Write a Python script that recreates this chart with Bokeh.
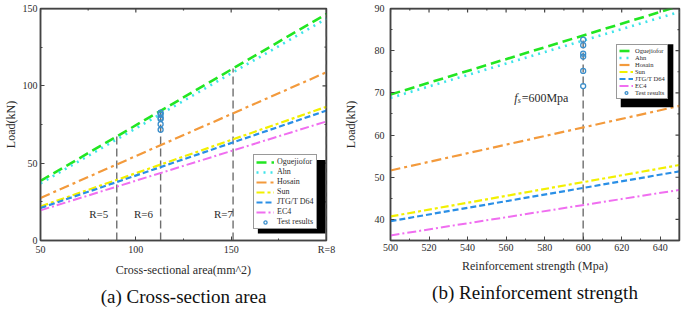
import numpy as np
from bokeh.plotting import figure
from bokeh.layouts import row
from bokeh.models import (Range1d, Legend, LegendItem, Title, FixedTicker, CustomJSTickFormatter,
                          Span, BoxAnnotation)
from bokeh.core.properties import value
from bokeh.embed import file_html
from bokeh.resources import INLINE

# ---------------- data ----------------
area = [50, 200]
ogu_a = [38.5, 146.5]
ahn_a = [37.0, 143.5]
hos_a = [27.5, 108.8]
sun_a = [22.0, 86.5]
jtg_a = [21.0, 84.0]
ec4_a = [19.5, 77.0]

fs = [500, 650]
ogu_b = [69.6, 90.6]
ahn_b = [68.8, 89.2]
hos_b = [51.6, 66.9]
sun_b = [40.7, 52.9]
jtg_b = [39.6, 51.4]
ec4_b = [36.2, 47.0]

test_area = 113
test_fs = 600
test_load = [71.6, 75.2, 78.6, 79.3, 81.3, 82.6]

r_area = [90, 113, 151, 200]
r_labels = ["R=5", "R=6", "R=7"]
r_label_x = [80.5, 104, 146]
r_label_y = [17, 17, 17]

x_ticks_a = [50, 100, 150, 200]
x_minor_a = [75, 125, 175]
y_ticks_a = [0, 50, 100, 150]
y_minor_a = [25, 75, 125]
x_ticks_b = [500, 520, 540, 560, 580, 600, 620, 640]
x_minor_b = [510, 530, 550, 570, 590, 610, 630, 650]
y_ticks_b = [40, 50, 60, 70, 80, 90]
y_minor_b = [35, 45, 55, 65, 75, 85]

names = ["Oguejiofor", "Ahn", "Hosain", "Sun", "JTG/T D64", "EC4"]
colors = ["#22e622", "#3fe3ea", "#f39a3c", "#f2f000", "#2a8fe6", "#f06ef0"]
dashes = ["10 5", "2 5", "10 4 3 4", "8 3 3 3", "6 3", "9 3 2 3"]
widths = [2.6, 2.6, 2.2, 2.2, 2.2, 2.0]

SERIF = "Liberation Serif"
TXT = "#2b2b2b"
AX = "#444444"


def style(p, xt, xm, yt, ym, xr, yr):
    p.outline_line_color = AX
    p.outline_line_width = 1.5
    p.xgrid.visible = False
    p.ygrid.visible = False
    for ax in (p.xaxis[0], p.yaxis[0]):
        ax.axis_line_color = AX
        ax.axis_line_width = 1.5
        ax.major_tick_in = 4
        ax.major_tick_out = 0
        ax.minor_tick_in = 2
        ax.minor_tick_out = 0
        ax.major_tick_line_color = AX
        ax.minor_tick_line_color = AX
        ax.major_label_text_font = SERIF
        ax.major_label_text_font_size = "10px"
        ax.major_label_text_color = TXT
        ax.axis_label_text_font = SERIF
        ax.axis_label_text_font_size = "12px"
        ax.axis_label_text_font_style = "normal"
        ax.axis_label_text_color = TXT
    p.xaxis[0].ticker = FixedTicker(ticks=xt, minor_ticks=xm)
    p.yaxis[0].ticker = FixedTicker(ticks=yt, minor_ticks=ym)
    # frame edges on top and right
    p.add_layout(Span(location=yr[1], dimension="width", line_color=AX, line_width=2))
    p.add_layout(Span(location=xr[1], dimension="height", line_color=AX, line_width=2))
    # mirrored inward ticks on the top and right edges
    p.scatter(xt, [yr[1]] * len(xt), marker="dash", angle=np.pi / 2, size=8,
              line_color=AX, line_width=1.2)
    p.scatter(xm, [yr[1]] * len(xm), marker="dash", angle=np.pi / 2, size=4,
              line_color=AX, line_width=1.2)
    p.scatter([xr[1]] * len(yt), yt, marker="dash", size=8, line_color=AX, line_width=1.2)
    p.scatter([xr[1]] * len(ym), ym, marker="dash", size=4, line_color=AX, line_width=1.2)


# ---------------- panel (a) ----------------
pa = figure(width=340, height=311, x_range=Range1d(50, 200), y_range=Range1d(0, 150),
            output_backend="svg", toolbar_location=None,
            min_border_left=39, min_border_right=14, min_border_top=8, min_border_bottom=0,
            x_axis_label="Cross-sectional area(mm^2)", y_axis_label="Load(kN)")
style(pa, x_ticks_a, x_minor_a, y_ticks_a, y_minor_a, (50, 200), (0, 150))
pa.xaxis[0].formatter = CustomJSTickFormatter(code="return tick == 200 ? 'R=8' : tick.toFixed(0);")
pa.yaxis[0].axis_label_standoff = 2
pa.yaxis[0].major_label_standoff = 3
pa.xaxis[0].major_label_standoff = 3
pa.xaxis[0].axis_label_standoff = 5

# vertical radius markers
for xv in r_area:
    top = float(np.interp(xv, area, ogu_a))
    pa.line([xv, xv], [0, top], line_color="#6e6e6e", line_width=1.4, line_dash="8 4")

items_a = []
series_a = [ogu_a, ahn_a, hos_a, sun_a, jtg_a, ec4_a]
for n, c, d, w, ys in zip(names, colors, dashes, widths, series_a):
    r = pa.line(area, ys, line_color=c, line_dash=d, line_width=w)
    items_a.append(LegendItem(label=n, renderers=[r]))
ra = pa.scatter([test_area] * len(test_load), test_load, marker="circle", size=5,
                fill_color=None, line_color="#3a8ecb", line_width=1.3)
items_a.append(LegendItem(label="Test results", renderers=[ra]))

pa.text(r_label_x, r_label_y, text=r_labels, text_font=value(SERIF), text_font_size="11px",
        text_color=TXT, text_align="center", text_baseline="middle")

# legend drop shadow (drawn before the legend so that the legend covers it)
pa.add_layout(BoxAnnotation(left=164, right=199.4, top=52, bottom=4.5,
                            fill_color="black", fill_alpha=1, line_color=None))

leg_a = Legend(items=items_a, location=(213, 11), label_text_font=SERIF,
               label_text_font_size="8px", label_text_color=TXT,
               label_height=8, glyph_height=8, glyph_width=18, spacing=1,
               padding=2, margin=0, label_standoff=3,
               border_line_color="#333333", border_line_width=1,
               background_fill_alpha=1)
pa.add_layout(leg_a, "center")

pa.add_layout(Title(text="(a) Cross-section area", align="center", text_font=SERIF,
                    text_font_size="19px", text_font_style="normal", text_color="#111111",
                    standoff=9), "below")

# ---------------- panel (b) ----------------
pb = figure(width=345, height=311, x_range=Range1d(500, 650), y_range=Range1d(35, 90),
            output_backend="svg", toolbar_location=None,
            min_border_left=49, min_border_right=6, min_border_top=8, min_border_bottom=0,
            x_axis_label="Reinforcement strength (Mpa)", y_axis_label="Load(kN)")
style(pb, x_ticks_b, x_minor_b, y_ticks_b, y_minor_b, (500, 650), (35, 90))
pb.yaxis[0].axis_label_standoff = 14
pb.yaxis[0].major_label_standoff = 6
pb.xaxis[0].major_label_standoff = 3
pb.xaxis[0].axis_label_standoff = 5

top_b = float(np.interp(test_fs, fs, ogu_b))
pb.line([test_fs, test_fs], [35, top_b], line_color="#6e6e6e", line_width=1.4, line_dash="8 4")

items_b = []
series_b = [ogu_b, ahn_b, hos_b, sun_b, jtg_b, ec4_b]
for n, c, d, w, ys in zip(names, colors, dashes, widths, series_b):
    r = pb.line(fs, ys, line_color=c, line_dash=d, line_width=w)
    items_b.append(LegendItem(label=n, renderers=[r]))
rb = pb.scatter([test_fs] * len(test_load), test_load, marker="circle", size=5,
                fill_color=None, line_color="#3a8ecb", line_width=1.3)
items_b.append(LegendItem(label="Test results", renderers=[rb]))

pb.text([566], [68.8], text=["f"], text_font=value(SERIF), text_font_size="12px",
        text_font_style="italic", text_color=TXT, text_align="right", text_baseline="middle")
pb.text([566], [68.8], text=["s"], text_font=value(SERIF), text_font_size="8px",
        text_font_style="italic", text_color=TXT, text_align="left", text_baseline="middle",
        y_offset=3)
pb.text([566], [68.8], text=["=600Mpa"], text_font=value(SERIF), text_font_size="12px",
        text_color=TXT, text_align="left", text_baseline="middle", x_offset=4)

pb.add_layout(BoxAnnotation(left=619.5, right=646.8, top=81.5, bottom=66.6,
                            fill_color="black", fill_alpha=1, line_color=None))

leg_b = Legend(items=items_b, location=(226, 141), label_text_font=SERIF,
               label_text_font_size="6.5px", label_text_color=TXT,
               label_height=7, glyph_height=7, glyph_width=14, spacing=0,
               padding=2, margin=0, label_standoff=2,
               border_line_color="#333333", border_line_width=1,
               background_fill_alpha=1)
pb.add_layout(leg_b, "center")

pb.add_layout(Title(text="(b) Reinforcement strength", align="center", text_font=SERIF,
                    text_font_size="19px", text_font_style="normal", text_color="#111111",
                    standoff=9), "below")

layout = row(pa, pb)
open("out.html", "w").write(file_html(layout, INLINE))
